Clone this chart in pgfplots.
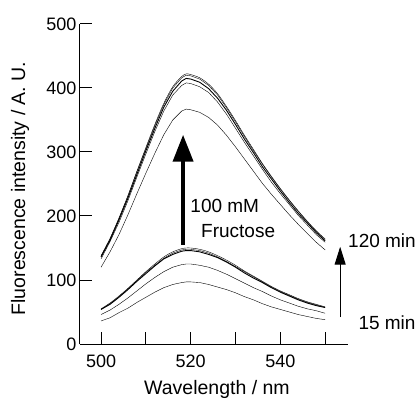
\documentclass[border=0pt]{standalone}
\usepackage{fontspec}
\setmainfont{Liberation Sans}
\usepackage{pgfplots}
\pgfplotsset{compat=1.18}
\usepackage{pgfplotstable}
\usetikzlibrary{arrows.meta}

\pgfplotstableread{
x   u1  u2  u3  u4  u5  l1 l2  l3  l4  l5
500 120 133 136 137 138 36 46  54  54  55
502 144 160 162 164 165 41 53  62  63  64
504 171 190 194 196 197 49 62  73  74  75
506 202 224 228 231 232 56 72  85  86  87
508 235 261 265 269 270 65 83  98  99  100
510 267 297 302 305 307 73 94  110 112 113
512 298 332 337 341 343 81 104 122 123 125
514 327 364 370 374 376 88 113 133 134 136
516 350 389 395 400 402 93 120 140 142 144
518 364 404 411 416 418 96 124 145 147 149
519 367 408 415 420 422 97 125 146 148 150
520 366 407 414 419 421 97 125 146 148 150
522 362 402 409 414 416 96 123 144 146 148
524 354 393 399 404 406 93 120 140 142 144
526 342 378 384 389 391 89 115 135 136 138
528 326 359 365 369 371 85 109 128 129 131
530 308 337 343 347 349 80 102 120 121 123
532 289 315 320 324 326 74 95  111 113 114
534 270 294 299 302 304 69 88  103 105 106
536 251 273 277 281 282 63 82  96  97  98
538 234 253 258 261 262 58 75  88  89  90
540 218 235 239 242 243 54 69  81  82  83
542 202 218 221 224 225 50 64  75  76  77
544 187 201 204 207 208 46 59  69  70  71
546 173 186 189 191 192 43 55  64  65  66
548 159 171 174 176 177 40 52  60  61  62
550 147 159 161 163 164 38 48  57  57  58
}\data

\begin{document}
\begin{tikzpicture}
\path[use as bounding box] (-80pt,-55pt) rectangle (338pt,344pt);
\begin{axis}[
  scale only axis, width=268pt, height=320pt,
  xmin=495.3, xmax=555.1, ymin=0, ymax=500,
  axis x line=bottom, axis y line=left,
  axis line style={-, line width=1pt, black},
  xtick={500,510,...,550}, xticklabels={500,,520,,540,},
  ytick={0,100,...,500},
  minor tick num=0,
  tick align=inside, major tick length=12pt,
  tick style={black, line width=1pt},
  /pgf/number format/assume math mode=true,
  tick label style={font=\fontsize{18}{18}\selectfont},
  xticklabel style={yshift=-7pt},
  xlabel={Wavelength / nm},
  ylabel={Fluorescence intensity / A. U.},
  label style={font=\fontsize{19.5}{20}\selectfont},
  xlabel style={at={(axis description cs:0.511,0)}, anchor=base, yshift=-50pt},
  ylabel style={at={(axis description cs:-0.224,0.486)}, anchor=center},
  clip=false,
  cycle list={{black, solid, line width=0.9pt, no marks, smooth}},
]
\addplot table[x=x,y=u1]{\data};
\addplot table[x=x,y=u2]{\data};
\addplot table[x=x,y=u3]{\data};
\addplot table[x=x,y=u4]{\data};
\addplot table[x=x,y=u5]{\data};
\addplot table[x=x,y=l1]{\data};
\addplot table[x=x,y=l2]{\data};
\addplot table[x=x,y=l3]{\data};
\addplot table[x=x,y=l4]{\data};
\addplot table[x=x,y=l5]{\data};

\draw[line width=4pt, -{Triangle[width=20pt,length=27pt]}] (axis cs:518.3,155) -- (axis cs:518.3,327);
\draw[line width=1pt, -{Triangle[width=11pt,length=18pt]}] (axis cs:553.35,42) -- (axis cs:553.35,152);
\node[anchor=west, inner sep=0pt, font=\fontsize{19}{19}\selectfont] at (axis cs:519.9,215) {100 mM};
\node[anchor=west, inner sep=0pt, font=\fontsize{19}{19}\selectfont] at (axis cs:522.3,176) {Fructose};
\node[anchor=west, inner sep=0pt, font=\fontsize{19}{19}\selectfont] at (axis cs:555.1,162) {120 min};
\node[anchor=west, inner sep=0pt, font=\fontsize{19}{19}\selectfont] at (axis cs:557.4,34) {15 min};
\end{axis}
\end{tikzpicture}
\end{document}
